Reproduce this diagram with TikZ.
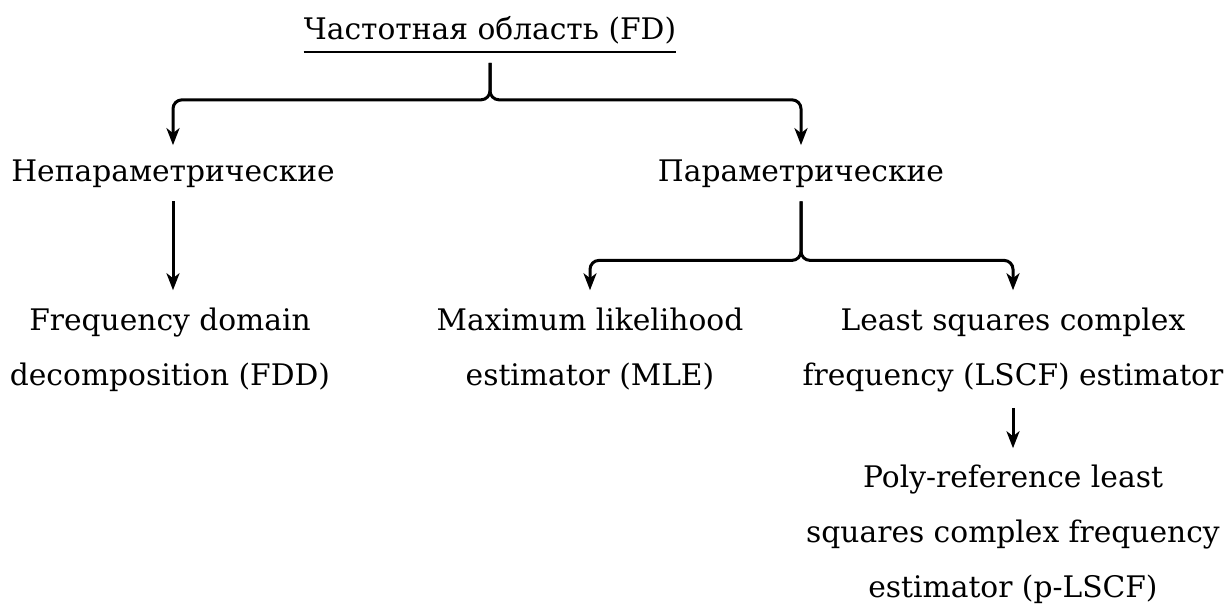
\documentclass[tikz,border=0pt]{standalone}
\usepackage{fontspec}
\setmainfont{DejaVu Serif}
\usetikzlibrary{arrows.meta, positioning}

\tikzset{
  lbl/.style={font=\fontsize{29.7}{55}\selectfont, inner sep=0pt, align=center, anchor=base},
  arr/.style={line width=3pt, -{Stealth[length=17pt, width=13pt, inset=5pt]}, rounded corners=9pt}
}

\begin{document}
\begin{tikzpicture}[x=1pt, y=-1pt]
\useasboundingbox (0,0) rectangle (1229,604);
% levels of the tree (base = last line)
\node[lbl] (fd) at (490,40) {Частотная область (FD)};
\node[lbl] (np) at (173,182) {Непараметрические};
\node[lbl] (pp) at (801,182) {Параметрические};
\node[lbl] (fdd) at (170,385) {Frequency domain\\decomposition (FDD)};
\node[lbl] (mle) at (590,385) {Maximum likelihood\\estimator (MLE)};
\node[lbl] (lscf) at (1013,385) {Least squares complex\\frequency (LSCF) estimator};
\node[lbl] (plscf) at (1013,597) {Poly-reference least\\squares complex frequency\\estimator (p-LSCF)};
% underline of the root
\draw[line width=1.4pt] ([yshift=-12pt]fd.base west) -- ([yshift=-12pt]fd.base east);
% forks
\draw[arr, shorten <=18pt, shorten >=15pt] (fd.south) -- ++(0,55) -| (np.north);
\draw[arr, shorten <=18pt, shorten >=15pt] (fd.south) -- ++(0,55) -| (pp.north);
\draw[arr, shorten <=13pt, shorten >=17pt] (pp.south) -- ++(0,72) -| (mle.north);
\draw[arr, shorten <=13pt, shorten >=17pt] (pp.south) -- ++(0,72) -| (lscf.north);
% single arrows
\draw[arr, shorten <=13pt, shorten >=17pt] (np.south) -- (np.south |- fdd.north);
\draw[arr, shorten <=16pt, shorten >=16pt] (lscf.south) -- (plscf.north);
\end{tikzpicture}
\end{document}
